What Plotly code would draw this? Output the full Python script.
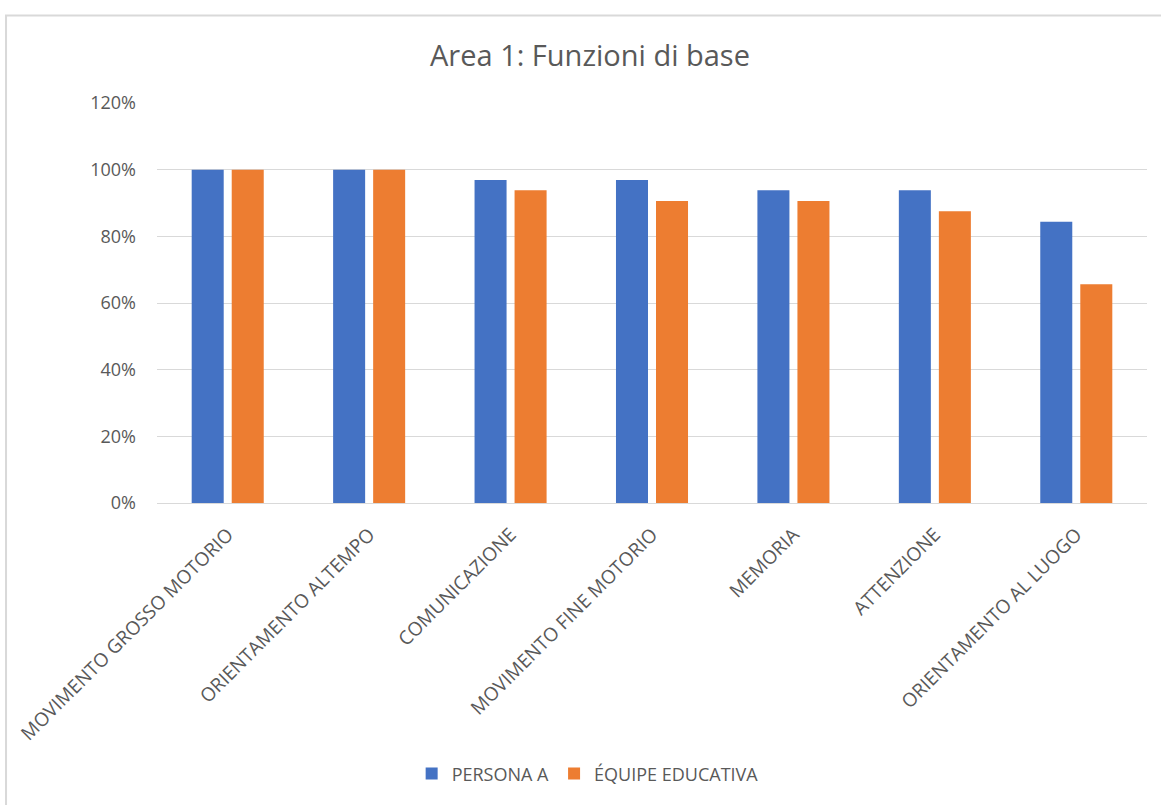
import plotly.graph_objects as go

categories = [
    "MOVIMENTO GROSSO MOTORIO",
    "ORIENTAMENTO ALTEMPO",
    "COMUNICAZIONE",
    "MOVIMENTO FINE MOTORIO",
    "MEMORIA",
    "ATTENZIONE",
    "ORIENTAMENTO AL LUOGO",
]
persona_a = [1.0, 1.0, 0.969, 0.969, 0.938, 0.938, 0.844]
equipe_educativa = [1.0, 1.0, 0.938, 0.906, 0.906, 0.875, 0.656]

BLUE = "#4472C4"
ORANGE = "#ED7D31"
TEXT = "#595959"
GRID = "#D9D9D9"
FONT = "Open Sans"

fig = go.Figure()
fig.add_trace(go.Bar(name="PERSONA A", x=categories, y=persona_a,
                     marker_color=BLUE, marker_line_width=0))
fig.add_trace(go.Bar(name="ÉQUIPE EDUCATIVA", x=categories, y=equipe_educativa,
                     marker_color=ORANGE, marker_line_width=0))

fig.update_layout(
    width=1161, height=805,
    margin=dict(l=157, r=14, t=103, b=300),
    paper_bgcolor="white", plot_bgcolor="white",
    barmode="group", bargap=0.434, bargroupgap=0.2,
    font=dict(family=FONT, size=17, color=TEXT),
    title=dict(text="Area 1: Funzioni di base", x=590 / 1161, xanchor="center",
               y=1 - 56 / 805, yanchor="middle",
               font=dict(family=FONT, size=29, color=TEXT)),
    showlegend=True,
    legend=dict(orientation="h", x=0.435, xanchor="center", y=-0.677,
                yanchor="middle", font=dict(family=FONT, size=18, color=TEXT),
                itemwidth=30, traceorder="normal"),
    xaxis=dict(tickangle=-45, showgrid=False, showline=True, linecolor=GRID,
               linewidth=1, ticks="", ticklabelstandoff=12, ticklabelshift=0,
               tickfont=dict(family=FONT, size=19, color=TEXT)),
    yaxis=dict(range=[0, 1.2], dtick=0.2, tickformat=".0%", showgrid=True,
               gridcolor=GRID, gridwidth=1, zeroline=False, showline=False,
               ticks="", ticklabelstandoff=20,
               tickfont=dict(family=FONT, size=18, color=TEXT)),
    shapes=[dict(type="rect", xref="paper", yref="paper",
                 x0=-0.1525, x1=1.03, y0=-0.8, y1=1.219,
                 line=dict(color=GRID, width=2), fillcolor="rgba(0,0,0,0)",
                 layer="below")],
)

fig.write_html("out.html")
